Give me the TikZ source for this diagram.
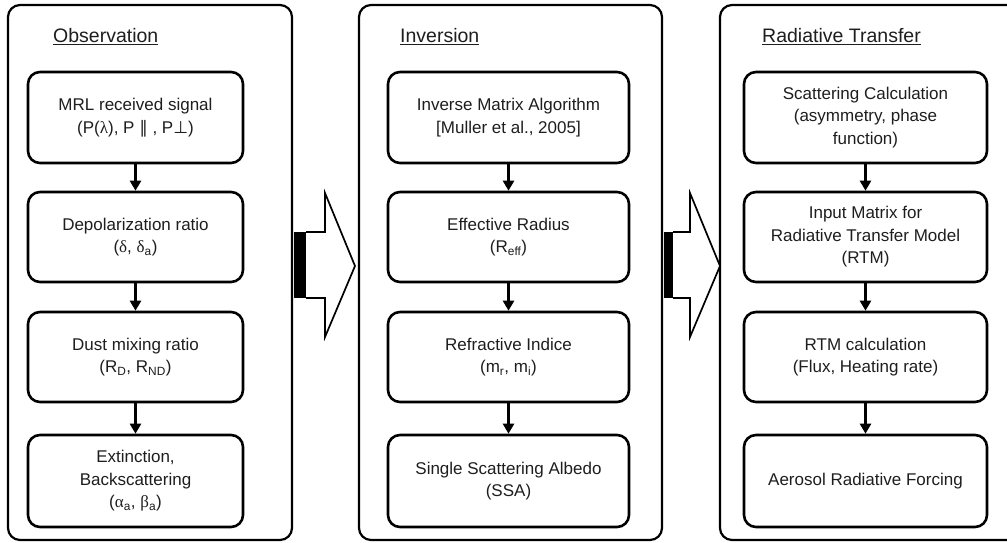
\documentclass[tikz,border=0pt]{standalone}
\usepackage{fontspec}
\setmainfont{Liberation Sans}
\newfontfamily\greekf{Liberation Serif}
\newfontfamily\symf{DejaVu Sans}
\usetikzlibrary{arrows.meta}
\definecolor{txt}{RGB}{30,30,30}
\newcommand\gk[1]{{\greekf #1}}
\newcommand\sbs[1]{\textsubscript{#1}}
\begin{document}
\begin{tikzpicture}[x=1pt,y=-1pt,
  panel/.style={draw, line width=2.2pt, rounded corners=12pt},
  stepbox/.style={draw, line width=2.6pt, rounded corners=12pt, align=center,
    font=\fontsize{17}{22.5}\selectfont, text=txt, inner sep=0pt},
  flow/.style={line width=2.4pt, -{Triangle[length=10pt,width=11pt]}},
  ptitle/.style={font=\fontsize{19.5}{23}\selectfont, anchor=base west, inner sep=0pt, text=txt},
  bigarrow/.style={draw, line width=1.7pt, line join=miter, fill=white}]
\useasboundingbox (0,0) rectangle (1007,543);
\clip (0,0) rectangle (1007,543);
\fill[white] (0,0) rectangle (1007,543);

% panels
\draw[panel] (8,5) rectangle (292,540);
\draw[panel] (359,5) rectangle (662,540);
\draw[panel] (720,5) rectangle (1030,540);

% titles
\node[ptitle] (t1) at (53,43) {\underline{Observation}};
\node[ptitle] (t2) at (400,43) {\underline{Inversion}};
\node[ptitle] (t3) at (762,43) {\underline{Radiative Transfer}};

% Observation column
\node[stepbox, minimum width=215pt, minimum height=91pt] (o1) at (135.5,117.5)
  {MRL received signal\\(P(\gk{λ}), P {\symf ∥} , P{\symf ⊥})};
\node[stepbox, minimum width=215pt, minimum height=90pt] (o2) at (135.5,237)
  {Depolarization ratio\\(\gk{δ}, \gk{δ}\sbs{a})};
\node[stepbox, minimum width=215pt, minimum height=90pt] (o3) at (135.5,357)
  {Dust mixing ratio\\(R\sbs{D}, R\sbs{ND})};
\node[stepbox, minimum width=215pt, minimum height=92pt] (o4) at (135.5,481)
  {Extinction,\\Backscattering\\(\gk{α}\sbs{a}, \gk{β}\sbs{a})};

% Inversion column
\node[stepbox, minimum width=241pt, minimum height=91pt] (i1) at (508.5,117.5)
  {Inverse Matrix Algorithm\\{[}Muller et al., 2005]};
\node[stepbox, minimum width=241pt, minimum height=90pt] (i2) at (508.5,237)
  {Effective Radius\\(R\sbs{eff})};
\node[stepbox, minimum width=241pt, minimum height=90pt] (i3) at (508.5,357)
  {Refractive Indice\\(m\sbs{r}, m\sbs{i})};
\node[stepbox, minimum width=241pt, minimum height=92pt] (i4) at (508.5,481)
  {Single Scattering Albedo\\(SSA)};

% Radiative transfer column
\node[stepbox, minimum width=243pt, minimum height=91pt] (r1) at (865.5,117.5)
  {Scattering Calculation\\(asymmetry, phase\\function)};
\node[stepbox, minimum width=243pt, minimum height=90pt] (r2) at (865.5,237)
  {Input Matrix for\\Radiative Transfer Model\\(RTM)};
\node[stepbox, minimum width=243pt, minimum height=90pt] (r3) at (865.5,357)
  {RTM calculation\\(Flux, Heating rate)};
\node[stepbox, minimum width=243pt, minimum height=92pt] (r4) at (865.5,481)
  {Aerosol Radiative Forcing};

% flow arrows
\foreach \c in {o,i,r}{
  \draw[flow] (\c1.south) -- (\c2.north);
  \draw[flow] (\c2.south) -- (\c3.north);
  \draw[flow] (\c3.south) -- (\c4.north);
}

% big arrows between panels
\fill (294,232) rectangle (306,298);
\draw[bigarrow] (306,232) -- (325,232) -- (325,193) -- (355,266) -- (325,337) -- (325,298) -- (306,298);
\fill (664,232) rectangle (673,298);
\draw[bigarrow] (673,232) -- (690,232) -- (690,193) -- (720,266) -- (690,337) -- (690,298) -- (673,298);
\end{tikzpicture}
\end{document}
